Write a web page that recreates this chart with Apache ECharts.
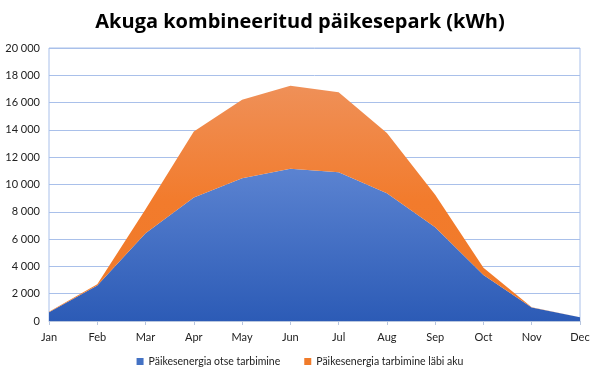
<!DOCTYPE html>
<html>
<head>
<meta charset="utf-8">
<script src="https://cdn.jsdelivr.net/npm/echarts@6/dist/echarts.min.js"></script>
<style>html,body{margin:0;padding:0;background:#fff}#c{width:600px;height:375px}</style>
</head>
<body>
<div id="c"></div>
<script>
const months = ['Jan','Feb','Mar','Apr','May','Jun','Jul','Aug','Sep','Oct','Nov','Dec'];
const direct = [650, 2600, 6430, 9050, 10460, 11150, 10900, 9360, 6870, 3370, 980, 270];
const battery = [30, 100, 1760, 4840, 5740, 6090, 5850, 4410, 2370, 540, 30, 0];
const seriesNames = ['Päikesenergia otse tarbimine', 'Päikesenergia tarbimine läbi aku'];

const fmt = v => v === 0 ? '0' : String(v).replace(/\B(?=(\d{3})+(?!\d))/g, ' ');
const font = "'Open Sans', 'Liberation Sans', sans-serif";
const small = "Lato, 'Open Sans', sans-serif";

const chart = echarts.init(document.getElementById('c'), null, {renderer: 'canvas'});
chart.setOption({
  animation: false,
  title: {
    text: 'Akuga kombineeritud päikesepark (kWh)',
    left: 'center', top: 7,
    textStyle: {fontFamily: font, fontSize: 20, fontWeight: 'bold', color: '#000'}
  },
  legend: {
    bottom: 3, left: 'center', itemWidth: 7, itemHeight: 7, itemGap: 24,
    icon: 'rect',
    textStyle: {fontFamily: small, fontSize: 10.5, color: '#222'},
    data: seriesNames
  },
  grid: {left: 49, right: 20, top: 48, bottom: 54, show: true, borderColor: '#a9c0ea', borderWidth: 1},
  xAxis: {
    type: 'category', data: months, boundaryGap: false,
    axisLine: {lineStyle: {color: '#b8c6df'}},
    axisTick: {show: true, length: 4, lineStyle: {color: '#b8c6df'}},
    axisLabel: {fontFamily: small, fontSize: 11, color: '#222', margin: 11}
  },
  yAxis: {
    type: 'value', min: 0, max: 20000, interval: 2000,
    axisLine: {show: false}, axisTick: {show: false},
    splitLine: {lineStyle: {color: '#a9c0ea', width: 1}},
    axisLabel: {fontFamily: small, fontSize: 11, color: '#222', formatter: fmt, margin: 9}
  },
  series: [
    {
      name: seriesNames[0], type: 'line', stack: 'total', data: direct,
      symbol: 'none', lineStyle: {width: 0},
      itemStyle: {color: '#4472c4'},
      areaStyle: {opacity: 1, color: new echarts.graphic.LinearGradient(0, 0, 0, 1, [
        {offset: 0, color: '#5b83d1'}, {offset: 1, color: '#2c5bb6'}])}
    },
    {
      name: seriesNames[1], type: 'line', stack: 'total', data: battery,
      symbol: 'none', lineStyle: {width: 0},
      itemStyle: {color: '#f07b2a'},
      areaStyle: {opacity: 1, color: new echarts.graphic.LinearGradient(0, 0, 0, 1, [
        {offset: 0, color: '#ef9058'}, {offset: 0.5, color: '#f27b2c'}, {offset: 1, color: '#f07a28'}])}
    }
  ]
});
</script>
</body>
</html>
